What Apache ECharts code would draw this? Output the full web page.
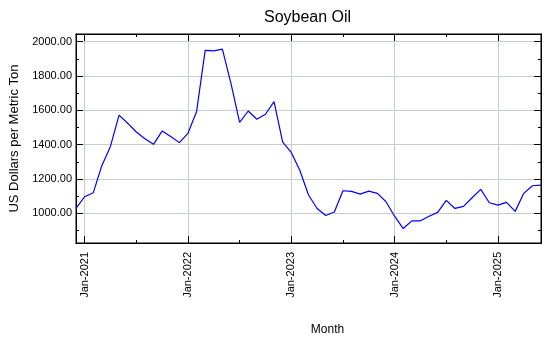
<!DOCTYPE html>
<html>
<head>
<meta charset="utf-8">
<script src="https://cdn.jsdelivr.net/npm/echarts@6/dist/echarts.min.js"></script>
<style>html,body{margin:0;padding:0;background:#fff}#c{width:550px;height:350px}</style>
</head>
<body>
<div id="c"></div>
<script>
var months = [
  'Dec-2020',
  'Jan-2021','Feb-2021','Mar-2021','Apr-2021','May-2021','Jun-2021','Jul-2021','Aug-2021','Sep-2021','Oct-2021','Nov-2021','Dec-2021',
  'Jan-2022','Feb-2022','Mar-2022','Apr-2022','May-2022','Jun-2022','Jul-2022','Aug-2022','Sep-2022','Oct-2022','Nov-2022','Dec-2022',
  'Jan-2023','Feb-2023','Mar-2023','Apr-2023','May-2023','Jun-2023','Jul-2023','Aug-2023','Sep-2023','Oct-2023','Nov-2023','Dec-2023',
  'Jan-2024','Feb-2024','Mar-2024','Apr-2024','May-2024','Jun-2024','Jul-2024','Aug-2024','Sep-2024','Oct-2024','Nov-2024','Dec-2024',
  'Jan-2025','Feb-2025','Mar-2025','Apr-2025','May-2025','Jun-2025'
];
var prices = [
  1030,
  1097,1120,1278,1390,1572,1525,1474,1435,1402,1479,1447,1412,
  1466,1592,1949,1946,1956,1755,1530,1596,1548,1577,1651,1415,
  1355,1250,1107,1029,988,1008,1132,1128,1112,1130,1117,1068,
  984,912,957,957,984,1006,1076,1029,1041,1091,1140,1062,
  1048,1064,1012,1117,1161,1165
];
var majorYTicks = [1000,1200,1400,1600,1800,2000];
var minorYTicks = [900,1100,1300,1500,1700,1900];
var yMin = 828, yMax = 2044;

var FONT = '"Liberation Sans", Arial, sans-serif';
var GRID_COLOR = '#c9cdc9';
function isJan(i, v){ return /^Jan/.test(v); }
function isJul(i, v){ return /^Jul/.test(v); }

function xAx(pos, tickFn, len, extra){
  return Object.assign({
    type:'category', data: months, boundaryGap:false, position: pos, gridIndex:0,
    axisLine:{show:true, onZero:false, lineStyle:{color:'#000', width:1}},
    axisTick:{show:true, inside:true, length:len, interval: tickFn, lineStyle:{color:'#000'}},
    axisLabel:{show:false},
    splitLine:{show:false}
  }, extra || {});
}
function yAx(pos, ticks, len, extra){
  return Object.assign({
    type:'value', min:yMin, max:yMax, position:pos, gridIndex:0,
    axisLine:{show:true, onZero:false, lineStyle:{color:'#000', width:1}},
    axisTick:{show:true, inside:true, length:len, customValues: ticks, lineStyle:{color:'#000'}},
    axisLabel:{show:false},
    splitLine:{show:false}
  }, extra || {});
}

var option = {
  animation:false,
  backgroundColor:'#fff',
  title:{
    text:'Soybean Oil', left:264, top:10, padding:0,
    textStyle:{fontFamily:FONT, fontSize:16, fontWeight:'normal', color:'#000'}
  },
  grid:{left:76, right:9, top:34, bottom:107, show:true, borderColor:'#000', borderWidth:1, containLabel:false},
  xAxis:[
    xAx('bottom', isJan, 7, {
      axisLabel:{show:true, interval:isJan, rotate:90, fontSize:11, fontFamily:FONT, color:'#000', margin:9},
      splitLine:{show:true, interval:isJan, lineStyle:{color:GRID_COLOR, width:1}},
      name:'Month', nameLocation:'middle', nameGap:81,
      nameTextStyle:{fontFamily:FONT, fontSize:12, color:'#000', padding:[0,0,0,38]}
    }),
    xAx('bottom', isJul, 3),
    xAx('top', isJan, 7),
    xAx('top', isJul, 3)
  ],
  yAxis:[
    yAx('left', majorYTicks, 7, {
      axisLabel:{show:true, customValues: majorYTicks, fontSize:11, fontFamily:FONT, color:'#000', margin:4,
        formatter:function(v){ return Number(v).toFixed(2); }},
      splitLine:{show:true, lineStyle:{color:GRID_COLOR, width:1}},
      name:'US Dollars per Metric Ton', nameLocation:'middle', nameGap:55,
      nameTextStyle:{fontFamily:FONT, fontSize:13, color:'#000'}
    }),
    yAx('left', minorYTicks, 3),
    yAx('right', majorYTicks, 7),
    yAx('right', minorYTicks, 3)
  ],
  series:[{
    type:'line', data:prices, xAxisIndex:0, yAxisIndex:0,
    showSymbol:false, symbol:'none',
    lineStyle:{color:'#0000ff', width:1.2}, itemStyle:{color:'#0000ff'}
  }]
};
var chart = echarts.init(document.getElementById('c'), null, {renderer:'canvas'});
chart.setOption(option);
</script>
</body>
</html>
